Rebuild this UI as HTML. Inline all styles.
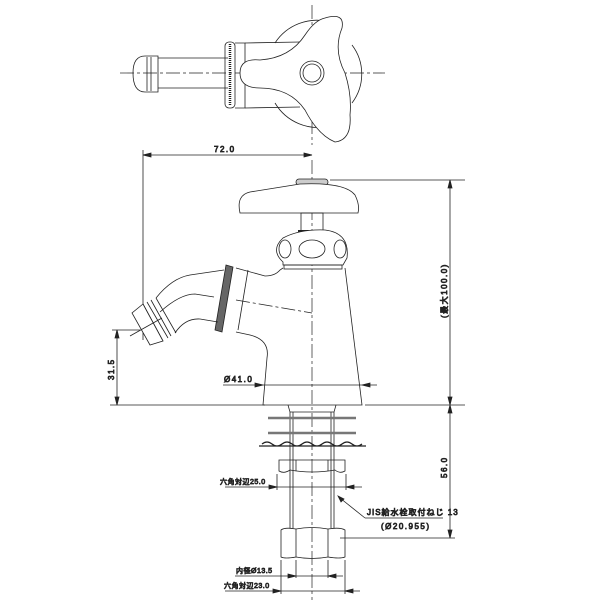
<!DOCTYPE html>
<html><head><meta charset="utf-8"><style>body{margin:0;background:#fff}svg{display:block}text{font-family:"Liberation Sans","Noto Sans CJK JP",sans-serif;font-size:8px;fill:#333;letter-spacing:1.5px}</style></head><body>
<svg width="600" height="600" viewBox="0 0 600 600" fill="none" stroke="#222" stroke-width="0.8">
<!-- TOP VIEW -->
<g>
<line x1="120" y1="73" x2="385" y2="73" stroke-dasharray="14,3,3,3" stroke-width="0.7"/>
<line x1="312" y1="5" x2="312" y2="145" stroke-dasharray="14,3,3,3" stroke-width="0.7"/>
<path d="M275,43 A50,50 0 0 1 330,22 M275,103 A50,50 0 0 0 330,126 M352,45 A48,48 0 0 1 352,103"/>
<path d="M145,56 Q133,56 133,73 Q133,92 145,92 L158,92 L158,56 Z"/>
<line x1="147" y1="57" x2="147" y2="91"/><line x1="151" y1="57" x2="151" y2="91"/>
<path d="M158,58 L228,58 M158,88 L228,88"/>
<rect x="225" y="42" width="10" height="66" rx="4"/>
<line x1="230" y1="44" x2="230" y2="106" stroke-dasharray="1,1" stroke-width="2.5"/>
<path d="M235,43 L245,43 L245,108 L235,108"/>
<path d="M245,43 L300,42 M245,108 L300,107"/>
<path d="M240,73 Q240,58 260,60 Q290,58 305,35 Q315,20 325,18 Q345,12 342,28 Q333,50 345,73 Q352,95 350,115 Q352,140 335,142 Q318,135 305,110 Q290,88 260,88 Q240,88 240,73 Z" fill="#fff"/>
<circle cx="312" cy="73" r="12"/><circle cx="312" cy="73" r="9"/>
</g>
<!-- dim 72 -->
<line x1="143" y1="155" x2="312" y2="155"/>
<path d="M143,155 l8,-2 l0,4 z M312,155 l-8,-2 l0,4 z" fill="#222"/>
<text x="214" y="152">72.0</text>
<line x1="143" y1="150" x2="143" y2="340"/>
<!-- SIDE VIEW -->
<line x1="312" y1="160" x2="312" y2="600" stroke-dasharray="14,3,3,3" stroke-width="0.7"/>
<rect x="296" y="179" width="32" height="6" rx="3" fill="#ccc"/>
<path d="M240,213 Q236,195 250,192 L300,184 Q345,182 355,195 Q360,205 358,213 Z" fill="#fff"/>
<rect x="301" y="213" width="22" height="18"/>
<line x1="298" y1="231" x2="327" y2="231" stroke-width="2"/>
<path d="M283,262 Q270,250 283,238 Q300,229 325,230 Q350,233 347,258 L343,265 L283,265 Z" fill="#fff"/>
<ellipse cx="312" cy="249" rx="13" ry="9"/><ellipse cx="285" cy="249" rx="6" ry="9"/><ellipse cx="340" cy="249" rx="6" ry="9"/>
<rect x="284" y="265" width="58" height="4"/>
<path d="M345,268 L362,405 L263,405 L267,358 Q270,340 250,335 L236,332 M283,268 L280,270 Q275,276 265,276 L236,268"/>
<path d="M248,270 L238,330"/>
<path d="M236,300 L312,313" stroke-dasharray="14,3,3,3" stroke-width="0.7"/>
<path d="M226,265 L233,267 L222,332 L215,330 Z" fill="#666"/>
<path d="M224,270 L190,275 Q172,278 156,298 M218,322 L200,319 Q185,318 175,333 M214,297 L195,294 Q180,294 160,312"/>
<path d="M156,298 L176,333 M151,300 L171,336 M147,302 L168,338 M143,304 L163,341"/>
<path d="M143,304 L132,313 L150,345 L163,341 Z" fill="#fff"/>
<line x1="130" y1="336" x2="162" y2="318"/>
<!-- dims -->
<line x1="330" y1="180" x2="465" y2="180"/><line x1="365" y1="405" x2="465" y2="405"/>
<line x1="450" y1="180" x2="450" y2="538"/>
<path d="M450,180 l-2,8 l4,0 z M450,405 l-2,-8 l4,0 z M450,405 l-2,8 l4,0 z M450,538 l-2,-8 l4,0 z" fill="#222"/>
<text x="0" y="0" transform="translate(447,318) rotate(-90)">(最大100.0)</text>
<text x="0" y="0" transform="translate(447,478) rotate(-90)">56.0</text>
<line x1="112" y1="330" x2="140" y2="330"/><line x1="110" y1="405" x2="265" y2="405"/>
<line x1="117" y1="330" x2="117" y2="405"/>
<path d="M117,330 l-2,8 l4,0 z M117,405 l-2,-8 l4,0 z" fill="#222"/>
<text x="0" y="0" transform="translate(114,380) rotate(-90)">31.5</text>
<line x1="223" y1="385" x2="377" y2="385"/>
<path d="M263,385 l-8,-2 l0,4 z M362,385 l8,-2 l0,4 z" fill="#222"/>
<text x="224" y="382">Ø41.0</text>
<!-- BOTTOM -->
<path d="M288,405 L290,412 L290,528 M336,405 L334,412 L334,528 M293,412 L293,528 M331,412 L331,528 M290,412 L334,412"/>
<line x1="268" y1="418" x2="356" y2="418" stroke-width="2.5" stroke="#777"/>
<line x1="268" y1="433" x2="356" y2="433" stroke-width="2.5" stroke="#777"/>
<path d="M259,446 L366,446 M262,444 q5,-4 10,0 t10,0 t10,0 t10,0 t10,0 t10,0 t10,0 t10,0 t10,0 t10,0" stroke-width="1.2"/>
<path d="M279,460 L345,460 L345,471 Q340,474 335,470 Q312,474 290,470 Q284,474 279,471 Z"/>
<line x1="296" y1="460" x2="296" y2="471"/><line x1="328" y1="460" x2="328" y2="471"/>
<path d="M281,530 Q285,527 296,529 Q312,526 328,529 Q340,527 345,530 L345,557 Q340,559 328,557 Q312,560 296,557 Q285,559 281,557 Z"/>
<line x1="296" y1="529" x2="296" y2="557"/><line x1="328" y1="529" x2="328" y2="557"/>
<line x1="340" y1="538" x2="455" y2="538"/>
<line x1="277" y1="474" x2="277" y2="490"/><line x1="346" y1="474" x2="346" y2="490"/>
<line x1="225" y1="487" x2="362" y2="487"/>
<path d="M277,487 l-8,-2 l0,4 z M346,487 l8,-2 l0,4 z" fill="#222"/>
<text x="220" y="484" style="font-size:7px;letter-spacing:0.5px">六角対辺25.0</text>
<line x1="340" y1="498" x2="365" y2="518"/><line x1="365" y1="518" x2="443" y2="518"/>
<path d="M338,496 l3,6 l3,-3 z" fill="#222"/>
<text x="367" y="515" style="letter-spacing:1px">JIS給水栓取付ねじ 13</text>
<text x="381" y="529">(Ø20.955)</text>
<line x1="296" y1="560" x2="296" y2="578"/><line x1="328" y1="560" x2="328" y2="578"/>
<line x1="281" y1="560" x2="281" y2="594"/><line x1="345" y1="560" x2="345" y2="594"/>
<line x1="235" y1="576" x2="343" y2="576"/>
<path d="M296,576 l-8,-2 l0,4 z M328,576 l8,-2 l0,4 z" fill="#222"/>
<text x="236" y="573" style="font-size:7px;letter-spacing:0.5px">内径Ø13.5</text>
<line x1="225" y1="591" x2="360" y2="591"/>
<path d="M281,591 l-8,-2 l0,4 z M345,591 l8,-2 l0,4 z" fill="#222"/>
<text x="224" y="588" style="font-size:7px;letter-spacing:0.5px">六角対辺23.0</text>
</svg>
</body></html>
